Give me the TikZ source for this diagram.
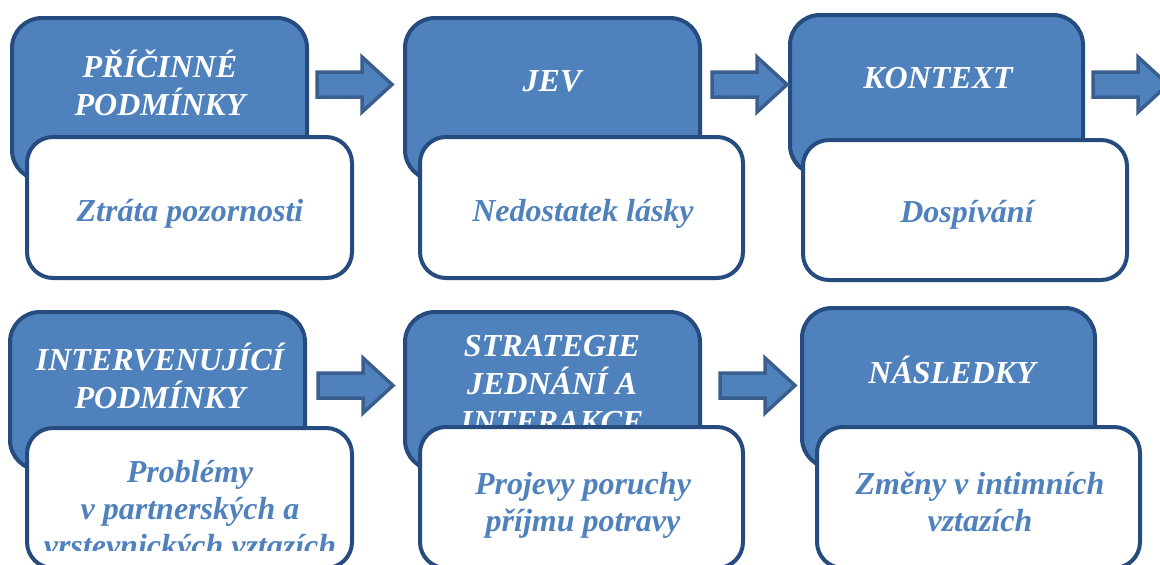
\documentclass[tikz,border=0pt]{standalone}
\usepackage{fontspec}
\setmainfont{Liberation Serif}
\definecolor{boxblue}{HTML}{4F81BD}
\definecolor{boxline}{HTML}{264B7E}
\definecolor{arrline}{HTML}{3A5F8E}
\tikzset{
  bluebox/.style={draw=boxline, line width=4pt, fill=boxblue, rounded corners=30pt, inner sep=0pt},
  whitebox/.style={draw=boxline, line width=4pt, fill=white, rounded corners=26pt, inner sep=0pt},
  headtxt/.style={text=white, font=\fontsize{32}{38}\selectfont\bfseries\itshape, align=center, inner sep=0pt},
  bodytxt/.style={text=boxblue, font=\fontsize{32}{37}\selectfont\bfseries\itshape, align=center, inner sep=0pt},
  blockarrow/.style={draw=arrline, line width=3.5pt, fill=boxblue, line join=miter},
  barrow/.pic={\draw[blockarrow] (0,-12.5) -- (45,-12.5) -- (45,-27.5) -- (75,0) -- (45,27.5) -- (45,12.5) -- (0,12.5) -- cycle;}
}
\begin{document}
\begin{tikzpicture}[x=1pt,y=-1pt]
\useasboundingbox (0,0) rectangle (1160,565);
\clip (0,0) rectangle (1160,565);
% group 1
\node[bluebox, minimum width=295pt, minimum height=162pt] (b1) at (159.5,99) {};
\node[headtxt] (h1) at (160,83) {PŘÍČINNÉ\\PODMÍNKY};
\node[whitebox, minimum width=325pt, minimum height=141pt] (w1) at (189.5,207.5) {};
\node[bodytxt] (t1) at (190,214) {Ztráta pozornosti};
% group 2
\node[bluebox, minimum width=295pt, minimum height=162pt] (b2) at (552.5,99) {};
\node[headtxt] (h2) at (552,81) {JEV};
\node[whitebox, minimum width=323pt, minimum height=141pt] (w2) at (581.5,207.5) {};
\node[bodytxt] (t2) at (583,214) {Nedostatek lásky};
% group 3
\node[bluebox, minimum width=293pt, minimum height=160pt] (b3) at (936.5,95) {};
\node[headtxt] (h3) at (938,78) {KONTEXT};
\node[whitebox, minimum width=324pt, minimum height=140pt] (w3) at (965,210) {};
\node[bodytxt] (t3) at (967,215) {Dospívání};
% group 4
\node[bluebox, minimum width=295pt, minimum height=158pt] (b4) at (157.5,391) {};
\node[headtxt] (h4) at (160,376) {INTERVENUJÍCÍ\\PODMÍNKY};
\node[whitebox, minimum width=325pt, minimum height=140pt] (w4) at (189.5,498) {};
\begin{scope}
\clip (30,432) rectangle (350,550);
\node[bodytxt] (t4) at (190,512) {Problémy\\v partnerských a\\vrstevnických vztazích};
\end{scope}
% group 5
\node[bluebox, minimum width=295pt, minimum height=158pt] (b5) at (552.5,391) {};
\node[headtxt] (h5) at (552,384) {STRATEGIE\\JEDNÁNÍ A\\INTERAKCE};
\node[whitebox, minimum width=323pt, minimum height=141pt] (w5) at (581.5,497.5) {};
\node[bodytxt] (t5) at (583,505) {Projevy poruchy\\příjmu potravy};
% group 6
\node[bluebox, minimum width=293pt, minimum height=160pt] (b6) at (948.5,388) {};
\node[headtxt] (h6) at (952,370) {NÁSLEDKY};
\node[whitebox, minimum width=323pt, minimum height=141pt] (w6) at (978.5,497.5) {};
\node[bodytxt] (t6) at (980,502) {Změny v intimních\\vztazích};
% arrows
\coordinate (a1) at (317,84.5);
\coordinate (a2) at (712,84.5);
\coordinate (a3) at (1093,84.5);
\coordinate (a4) at (318,385.5);
\coordinate (a5) at (720,385.5);
\foreach \a in {a1,a2,a3,a4,a5} { \pic at (\a) {barrow}; }
\end{tikzpicture}
\end{document}
